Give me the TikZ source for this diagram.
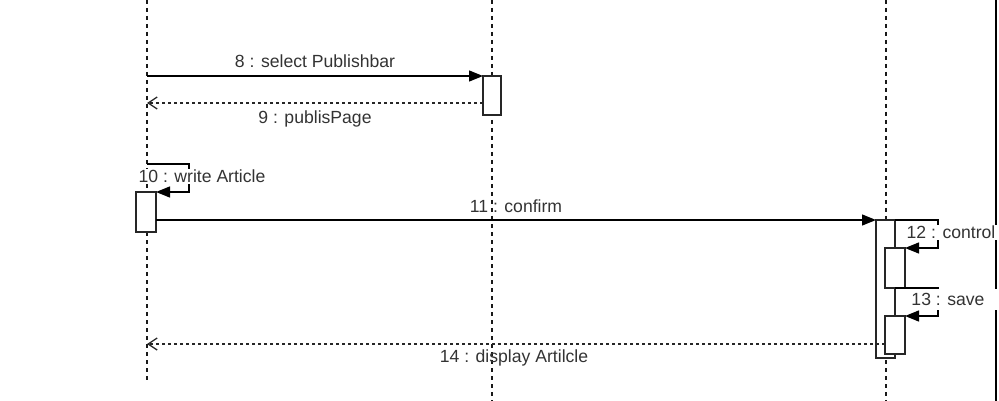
\documentclass[tikz,border=0pt]{standalone}
\usepackage{fontspec}
\setmainfont{Liberation Sans}
\usetikzlibrary{arrows.meta}
\begin{document}
\begin{tikzpicture}[x=1pt,y=-1pt,
  lifeline/.style={draw=black!90,line width=1.3pt,dash pattern=on 4pt off 4pt},
  act/.style={draw=black!85,fill=white,line width=1.3pt,inner sep=0pt,outer sep=0pt},
  msg/.style={draw=black,line width=1.3pt,-{Triangle[length=14pt,width=11pt]}},
  ret/.style={draw=black!85,line width=1.3pt,dash pattern=on 3pt off 3pt,-{Straight Barb[length=9pt,width=12pt,line width=1.3pt]}},
  lbl/.style={font=\fontsize{17.6}{19}\selectfont,text=black!80,anchor=base,inner sep=1pt},
  lblbg/.style={lbl,fill=white}]
\useasboundingbox (0,0) rectangle (999,401);
% lifelines
\coordinate (L1top) at (147,0); \coordinate (L1bot) at (147,383);
\coordinate (L2top) at (492,0); \coordinate (L2bot) at (492,401);
\coordinate (L3top) at (886,0); \coordinate (L3bot) at (886,401);
\draw[lifeline] (L1top) -- (L1bot);
\draw[lifeline] (L2top) -- (L2bot);
\draw[lifeline] (L3top) -- (L3bot);
% right border
\coordinate (Rtop) at (996,0); \coordinate (Rbot) at (996,401);
\draw[black,line width=1.3pt] (Rtop) -- (Rbot);
% activations
\node[act,minimum width=18pt,minimum height=39pt] (A2) at (492,95.5) {};
\node[act,minimum width=20pt,minimum height=40pt] (A1) at (146,212) {};
\node[act,minimum width=19pt,minimum height=138pt] (A3) at (885.5,289) {};
\node[act,minimum width=20pt,minimum height=40pt] (A4) at (895,268) {};
\node[act,minimum width=20pt,minimum height=38pt] (A5) at (895,335) {};
% message 8
\draw[msg] (A2.north west -| L1top) -- (A2.north west);
\node[lbl] (t8) at (315,67.5) {8 : select Publishbar};
% message 9
\coordinate (m9) at (483,103);
\draw[ret] (m9) -- (m9 -| L1top);
\node[lbl] (t9) at (315,123.5) {9 : publisPage};
% message 10 (self)
\coordinate (m10a) at (147,164);
\coordinate (m10b) at (189,164);
\coordinate (m10c) at (189,192);
\draw[msg] (m10a) -- (m10b) -- (m10c) -- (A1.north east);
\node[lblbg] (t10) at (202,182.5) {10 : write Article};
% message 11
\draw[msg] (A1.east |- A3.north west) -- (A3.north west);
\node[lbl] (t11) at (516,212.5) {11 : confirm};
% message 12 (self)
\coordinate (m12b) at (938,220);
\coordinate (m12c) at (938,248);
\draw[msg] (A3.north east) -- (m12b) -- (m12c) -- (A4.north east);
\node[lblbg,minimum width=104pt] (t12) at (951,238.5) {12 : control};
% message 13 (self)
\coordinate (m13a) at (895,288);
\coordinate (m13b) at (938,288);
\coordinate (m13c) at (938,316);
\draw[msg] (m13a) -- (m13b) -- (m13c) -- (A5.north east);
\node[lblbg,minimum width=104pt,minimum height=21pt,text depth=0pt] (t13) at (948,305.5) {13 : save};
% message 14
\coordinate (m14) at (885,344);
\draw[ret] (m14) -- (m14 -| L1top);
\node[lbl] (t14) at (514,362.5) {14 : display Artilcle};
\end{tikzpicture}
\end{document}
